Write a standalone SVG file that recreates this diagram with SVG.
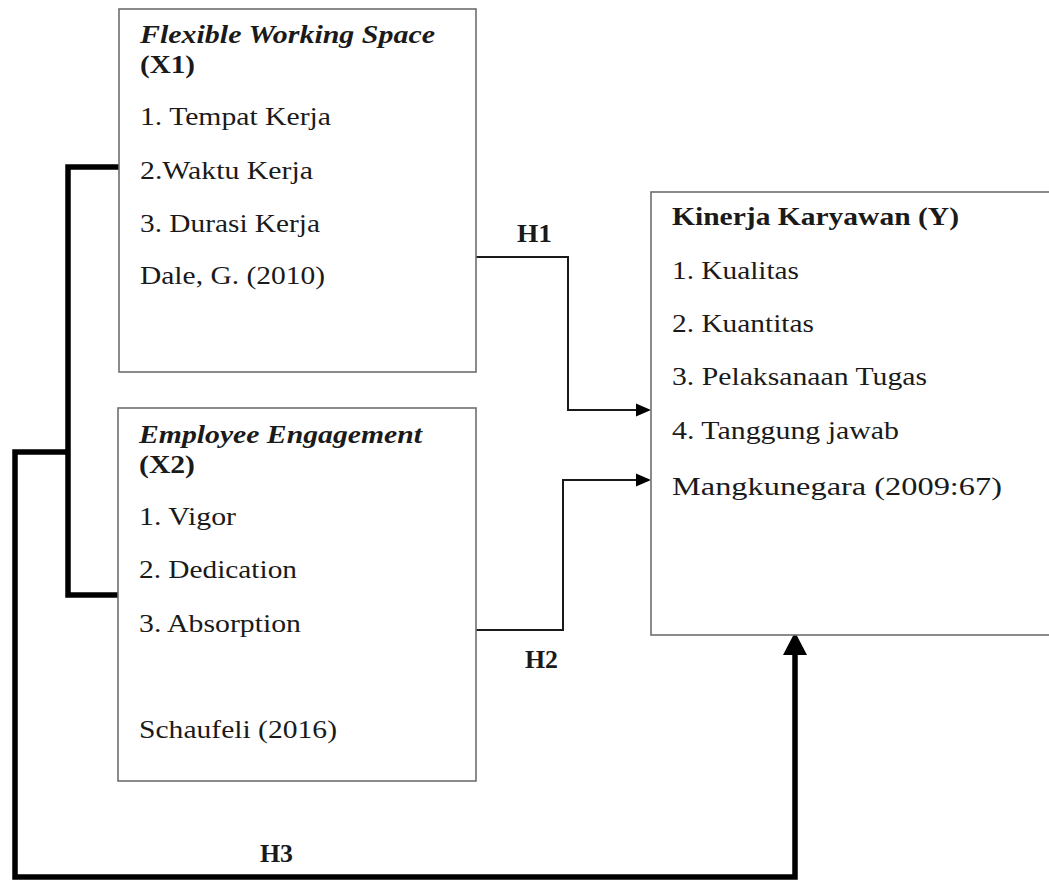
<svg xmlns="http://www.w3.org/2000/svg" width="1049" height="880" viewBox="0 0 1049 880">
<style>
.box{fill:#ffffff;stroke:#6e6e6e;stroke-width:1.6}
text{font-family:"Liberation Serif","Times New Roman",serif;fill:#1a1a1a;font-size:26px}
.t{font-weight:bold;font-style:italic}
.b{font-weight:bold}
.thin{fill:none;stroke:#1a1a1a;stroke-width:2}
.thick{fill:none;stroke:#000;stroke-width:5.5;stroke-linejoin:miter}
.head{fill:#000}
</style>
<rect width="1049" height="880" fill="#ffffff"/>
<g id="connectors">
<polyline class="thick" points="119,167 68,167 68,595 118,595"/>
<polyline class="thick" points="68,452 15,452 15,877 795,877 795,655"/>
<path class="head" d="M783,655 L795,632 L807,655 z"/>
<polyline class="thin" points="476,257 568,257 568,410 636,410"/>
<path class="head" d="M636,403.5 L651,410 L636,416.5 z"/>
<polyline class="thin" points="476,630 563,630 563,480 636,480"/>
<path class="head" d="M636,473.5 L651,480 L636,486.5 z"/>
<text class="b" x="517" y="242" textLength="35" lengthAdjust="spacingAndGlyphs">H1</text>
<text class="b" x="525" y="668" textLength="33" lengthAdjust="spacingAndGlyphs">H2</text>
<text class="b" x="260" y="862" textLength="33" lengthAdjust="spacingAndGlyphs">H3</text>
</g>
<g id="x1">
<rect class="box" x="119" y="9" width="357" height="363"/>
<text class="t" x="140" y="43" textLength="295" lengthAdjust="spacingAndGlyphs">Flexible Working Space</text>
<text class="b" x="140" y="73" textLength="55" lengthAdjust="spacingAndGlyphs">(X1)</text>
<text x="140" y="125" textLength="191" lengthAdjust="spacingAndGlyphs">1. Tempat Kerja</text>
<text x="140" y="179" textLength="173" lengthAdjust="spacingAndGlyphs">2.Waktu Kerja</text>
<text x="140" y="232" textLength="180" lengthAdjust="spacingAndGlyphs">3. Durasi Kerja</text>
<text x="140" y="284" textLength="185" lengthAdjust="spacingAndGlyphs">Dale, G. (2010)</text>
</g>
<g id="x2">
<rect class="box" x="118" y="408" width="358" height="373"/>
<text class="t" x="139" y="443" textLength="283" lengthAdjust="spacingAndGlyphs">Employee Engagement</text>
<text class="b" x="139" y="473" textLength="56" lengthAdjust="spacingAndGlyphs">(X2)</text>
<text x="139" y="525" textLength="97" lengthAdjust="spacingAndGlyphs">1. Vigor</text>
<text x="139" y="578" textLength="158" lengthAdjust="spacingAndGlyphs">2. Dedication</text>
<text x="139" y="632" textLength="162" lengthAdjust="spacingAndGlyphs">3. Absorption</text>
<text x="139" y="738" textLength="198" lengthAdjust="spacingAndGlyphs">Schaufeli (2016)</text>
</g>
<g id="y">
<rect class="box" x="651" y="192" width="410" height="443"/>
<text class="b" x="672" y="225" textLength="287" lengthAdjust="spacingAndGlyphs">Kinerja Karyawan (Y)</text>
<text x="672" y="279" textLength="127" lengthAdjust="spacingAndGlyphs">1. Kualitas</text>
<text x="672" y="332" textLength="142" lengthAdjust="spacingAndGlyphs">2. Kuantitas</text>
<text x="672" y="385" textLength="255" lengthAdjust="spacingAndGlyphs">3. Pelaksanaan Tugas</text>
<text x="672" y="439" textLength="227" lengthAdjust="spacingAndGlyphs">4. Tanggung jawab</text>
<text x="672" y="495" textLength="330" lengthAdjust="spacingAndGlyphs">Mangkunegara (2009:67)</text>
</g>
</svg>
